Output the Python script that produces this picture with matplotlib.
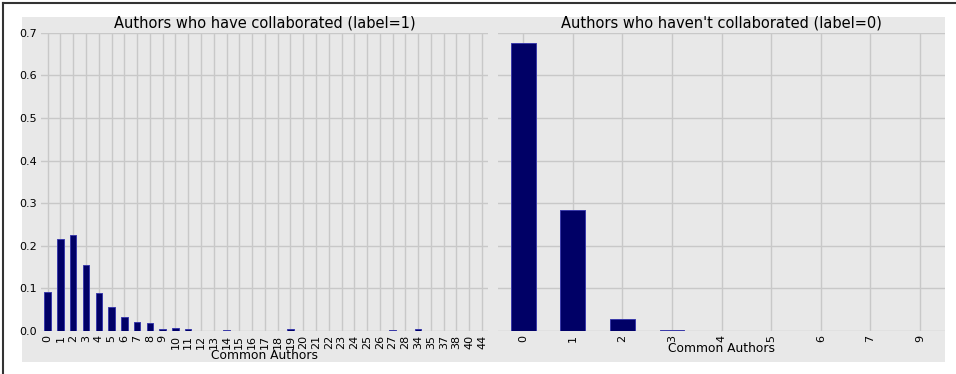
import matplotlib
matplotlib.use('Agg')
import matplotlib.pyplot as plt
from matplotlib.patches import Rectangle
from matplotlib.lines import Line2D

# common-author counts and their share of pairs
collab_counts = ['0', '1', '2', '3', '4', '5', '6', '7', '8', '9', '10', '11', '12',
                 '13', '14', '15', '16', '17', '18', '19', '20', '21', '22', '23', '24',
                 '25', '26', '27', '28', '34', '35', '37', '38', '40', '44']
collab_share = [0.092, 0.217, 0.2255, 0.155, 0.0885, 0.0565, 0.034, 0.021, 0.0188,
                0.0055, 0.007, 0.005, 0.001, 0.001, 0.0015, 0.0003, 0.0003, 0.0003,
                0.0003, 0.005, 0.0003, 0.0003, 0.001, 0.001, 0.0003, 0.0003, 0.0003,
                0.002, 0.0003, 0.005, 0.0003, 0.0003, 0.0003, 0.0003, 0.0003]

nocollab_counts = ['0', '1', '2', '3', '4', '5', '6', '7', '9']
nocollab_share = [0.676, 0.284, 0.028, 0.003, 0.0002, 0.0002, 0.0002, 0.0002, 0.0002]

bg = '#e8e8e8'
bar_color = '#000066'
grid_color = '#c8c8c8'

fig = plt.figure(figsize=(9.56, 3.74), dpi=100, facecolor='white')

# gray panel behind both plots, and the screenshot frame
fig.patches.append(Rectangle((0.023, 0.032), 0.9655, 0.9225, transform=fig.transFigure,
                             facecolor=bg, edgecolor='none', zorder=-10))
fig.lines.append(Line2D([0.003, 1.0], [0.991, 0.991], transform=fig.transFigure,
                        color='#333333', linewidth=1.5))
fig.lines.append(Line2D([0.0035, 0.0035], [0.0, 0.991], transform=fig.transFigure,
                        color='#333333', linewidth=1.5))

ax1 = fig.add_axes([0.0432, 0.115, 0.4677, 0.797])
ax2 = fig.add_axes([0.5214, 0.115, 0.4668, 0.797])

panels = [
    (ax1, collab_counts, collab_share, 'Authors who have collaborated (label=1)'),
    (ax2, nocollab_counts, nocollab_share, "Authors who haven't collaborated (label=0)"),
]

for ax, cats, vals, title in panels:
    x = list(range(len(cats)))
    ax.bar(x, vals, width=0.5, color=bar_color, edgecolor='#3a3aaa', linewidth=0.7, zorder=3)
    ax.set_facecolor(bg)
    ax.set_xlim(-0.5, len(cats) - 0.5)
    ax.set_ylim(0, 0.7)
    ax.set_xticks(x)
    ax.set_xticklabels(cats, rotation=90, fontsize=8)
    ax.set_yticks([0.0, 0.1, 0.2, 0.3, 0.4, 0.5, 0.6, 0.7])
    ax.tick_params(length=0, pad=3, labelsize=8)
    ax.grid(True, color=grid_color, linewidth=1, zorder=0)
    ax.set_axisbelow(True)
    for s in ax.spines.values():
        s.set_visible(False)
    ax.set_title(title, fontsize=10.5, pad=4)
    ax.set_xlabel('Common Authors', fontsize=8.8, labelpad=0)

ax1.set_yticklabels(['0.0', '0.1', '0.2', '0.3', '0.4', '0.5', '0.6', '0.7'])
ax2.set_yticklabels([])

fig.savefig('out.png', dpi=100, facecolor='white')
